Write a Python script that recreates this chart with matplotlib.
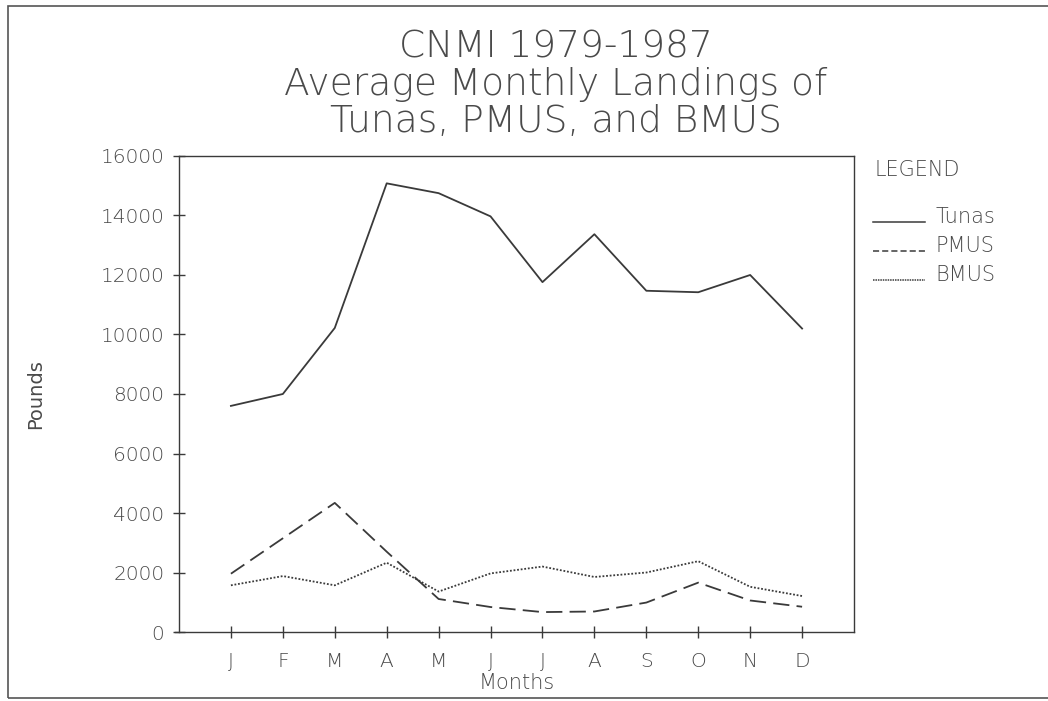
import numpy as np
import matplotlib.pyplot as plt
from matplotlib.lines import Line2D
from matplotlib.patches import Rectangle

months = ['J', 'F', 'M', 'A', 'M', 'J', 'J', 'A', 'S', 'O', 'N', 'D']
tunas = [7600, 8000, 10220, 15080, 14750, 13970, 11760, 13370, 11470, 11420, 12000, 10200]
pmus = [1960, 3150, 4340, 2700, 1110, 840, 670, 690, 990, 1660, 1060, 850]
bmus = [1570, 1880, 1570, 2330, 1360, 1970, 2200, 1850, 2000, 2380, 1520, 1210]

ink = '#3a3a3a'
txt = '#4a4a4a'
plt.rcParams['font.weight'] = 'light'

fig = plt.figure(figsize=(10.48, 7.01), dpi=100)
ax = fig.add_axes([0.1708, 0.0984, 0.6441, 0.6791])

x = np.arange(len(months))
ax.plot(x, tunas, color=ink, lw=1.3)
ax.plot(x, pmus, color=ink, lw=1.3, dashes=(9, 4))
ax.plot(x, bmus, color=ink, lw=1.3, dashes=(1, 1))

ax.set_xlim(-1, 12)
ax.set_ylim(0, 16000)
ax.set_xticks(x)
ax.set_xticklabels(months)
ax.set_yticks(np.arange(0, 16001, 2000))
ax.tick_params(direction='inout', length=9, width=1, color=ink,
               labelsize=14.5, labelcolor=txt, pad=6)
ax.tick_params(axis='x', pad=10)
for s in ax.spines.values():
    s.set_color(ink)
    s.set_linewidth(1)
# bottom axis line runs a little past the left spine
ax.spines['bottom'].set_bounds(-1.08, 12)

ax.set_xlabel('Months', fontsize=15, color=txt, labelpad=1, fontweight='light')
ax.set_ylabel('Pounds', fontsize=14, color=txt, labelpad=40, fontweight='normal',
              family=['Liberation Sans Narrow', 'DejaVu Sans'])

fig.text(0.53, 0.933, 'CNMI 1979-1987', ha='center', va='center', fontsize=27, color=txt)
fig.text(0.53, 0.880, 'Average Monthly Landings of', ha='center', va='center', fontsize=27, color=txt)
fig.text(0.53, 0.827, 'Tunas, PMUS, and BMUS', ha='center', va='center', fontsize=27, color=txt)

# legend drawn by hand to the right of the plot
fig.text(0.834, 0.757, 'LEGEND', fontsize=15, color=txt, va='center')
names = ['Tunas', 'PMUS', 'BMUS']
styles = [dict(), dict(dashes=(4, 2)), dict(dashes=(1, 0.6))]
ys = [0.690, 0.649, 0.607]
for name, st, yy in zip(names, styles, ys):
    fig.add_artist(Line2D([0.833, 0.883], [yy - 0.007, yy - 0.007], color=ink, lw=1.1,
                          transform=fig.transFigure, **st))
    fig.text(0.893, yy, name, fontsize=15, color=txt, va='center')

# outer frame
fig.add_artist(Rectangle((0.0076, 0.004), 1.0, 0.987, fill=False, ec='#555555', lw=1.2,
                         transform=fig.transFigure))

plt.savefig('out.png', dpi=100)
